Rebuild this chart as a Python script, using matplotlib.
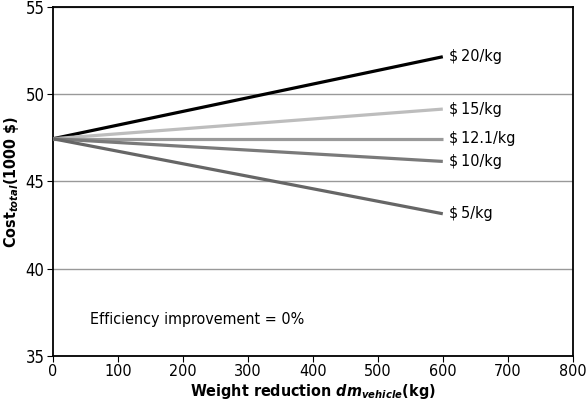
import matplotlib.pyplot as plt

weight = [0, 600]
labels = ["$20/kg", "$15/kg", "$12.1/kg", "$10/kg", "$5/kg"]
costs = [
    [47.45, 52.15],
    [47.45, 49.15],
    [47.45, 47.45],
    [47.45, 46.15],
    [47.45, 43.15],
]
colors = ["#000000", "#bdbdbd", "#9a9a9a", "#7a7a7a", "#666666"]
label_y = [52.15, 49.15, 47.45, 46.15, 43.15]

plt.rcParams['font.family'] = ['DejaVu Sans']
plt.rcParams['font.stretch'] = 'condensed'
plt.rcParams['mathtext.fontset'] = 'custom'
plt.rcParams['mathtext.it'] = 'DejaVu Sans:italic:bold'
plt.rcParams['mathtext.rm'] = 'DejaVu Sans:bold'

fig = plt.figure(figsize=(5.86, 4.12), dpi=100)
ax = fig.add_axes([0.0904, 0.136, 0.887, 0.847])

for c, col in zip(costs, colors):
    ax.plot(weight, c, color=col, lw=2.3, solid_capstyle="butt", zorder=3)
for lab, y in zip(labels, label_y):
    ax.text(610, y, lab.replace("$", "\\$\u2009"), fontsize=11.5, va="center", ha="left")

ax.set_xlim(0, 800)
ax.set_ylim(35, 55)
ax.set_xticks(range(0, 801, 100))
ax.set_yticks(range(35, 56, 5))
ax.yaxis.grid(True, color="#999999", lw=1)
ax.set_axisbelow(True)
ax.tick_params(axis="y", labelsize=12, length=4, direction="out", pad=2)
ax.tick_params(axis="x", labelsize=11.5, length=4, direction="out", pad=2)
for s in ax.spines.values():
    s.set_linewidth(1.3)

ax.text(57, 37.1, "Efficiency improvement = 0%", fontsize=11.5, va="center")
ax.set_xlabel(r"Weight reduction $\mathit{dm}_{\mathit{vehicle}}$(kg)", fontsize=11.5, fontweight="bold", labelpad=2)
ax.set_ylabel(r"Cost$_{\mathit{total}}$(1000 \$)", fontsize=11.5, fontweight="bold", labelpad=3)

fig.savefig("out.png", dpi=100)
